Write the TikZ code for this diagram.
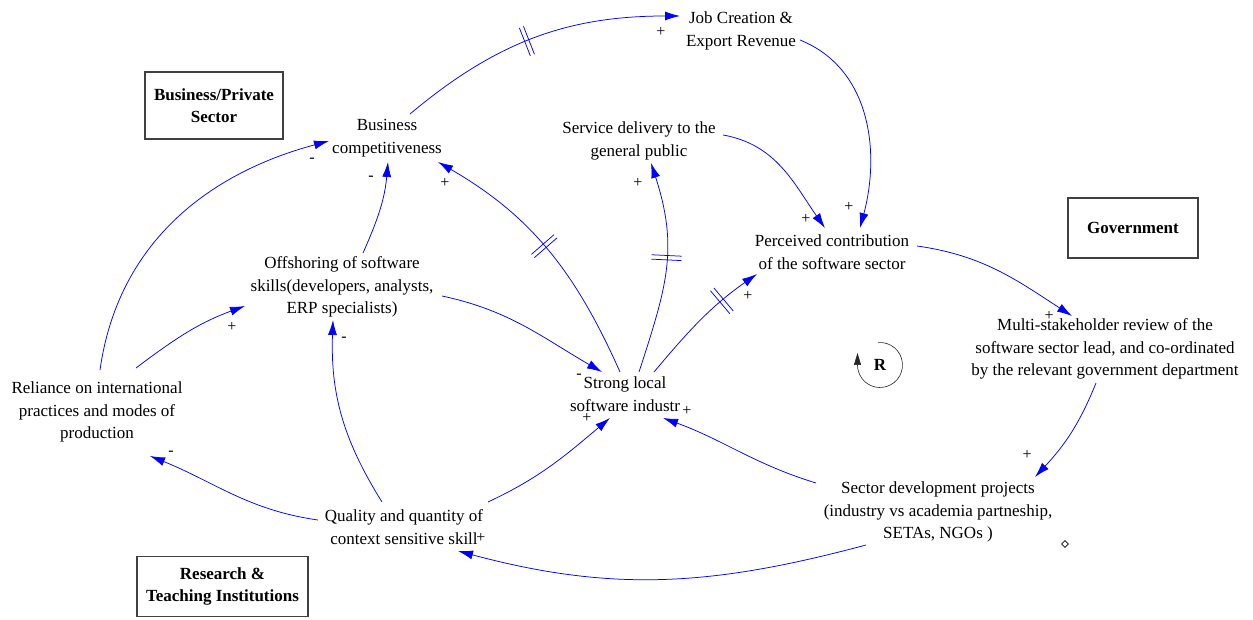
\documentclass[tikz,border=0pt]{standalone}
\usepackage{fontspec}
\setmainfont{Liberation Serif}
\usetikzlibrary{arrows.meta,decorations.markings,shapes.geometric}
\begin{document}
\begin{tikzpicture}[x=1pt,y=1pt,
  var/.style={align=center, font=\fontsize{17}{22.5}\selectfont, inner sep=0pt},
  sector/.style={draw=black!75, line width=1.1pt, align=center, font=\fontsize{17}{22.5}\selectfont\bfseries},
  link/.style={draw=blue, line width=0.75pt, -{Latex[length=15pt,width=9pt]}},
  pol/.style={font=\fontsize{16}{16}\selectfont, inner sep=0pt},
  delaymark/.style={postaction={decorate, decoration={markings, mark=at position #1 with {\draw[-, blue, line width=0.75pt] (-2.2pt,-15pt)--(-2.2pt,15pt) (2.2pt,-15pt)--(2.2pt,15pt);}}}}
]
\useasboundingbox (0,0) rectangle (1253,620);

% variables
\node[var] (job) at (741,589) {Job Creation \&\\Export Revenue};
\node[sector, minimum width=138pt, minimum height=67pt] (bps) at (214,514.5) {Business/Private\\Sector};
\node[var] (bc) at (387,482) {Business\\competitiveness};
\node[var] (sd) at (639,479) {Service delivery to the\\general public};
\node[var] (pc) at (832,368) {Perceived contribution\\of the software sector};
\node[sector, minimum width=130pt, minimum height=60pt] (gov) at (1133,392) {Government};
\node[var] (off) at (342,333) {Offshoring of software\\skills(developers, analysts,\\ERP specialists)};
\node[var] (msr) at (1105,271) {Multi-stakeholder review of the\\software sector lead, and co-ordinated\\by the relevant government department};
\node[var] (sli) at (625,226) {Strong local\\software industr};
\node[var] (rel) at (97,208) {Reliance on international\\practices and modes of\\production};
\node[var] (sdp) at (938,108) {Sector development projects\\(industry vs academia partneship,\\SETAs, NGOs )};
\node[var] (qq) at (404,93) {Quality and quantity of\\context sensitive skill};
\node[sector, anchor=north, minimum width=171pt, inner ysep=11pt] (rti) at (222.5,64) {Research \&\\Teaching Institutions};
\node[draw, diamond, inner sep=0pt, minimum size=7pt, line width=0.6pt] (dot) at (1065,76) {};

% loop marker
\node[font=\fontsize{17}{17}\selectfont\bfseries] (R) at (880,255) {R};
\draw[black!85, line width=0.6pt] ([shift={(95:22.5)}]R.center) arc[start angle=95, end angle=-180, radius=22.5]
  coordinate (rend);
\draw[black!85, line width=0.6pt, -{Triangle[length=12pt,width=7pt]}] (rend) -- ++(0,12);

% links
\draw[link, delaymark=0.47] ([shift={(23,24)}]bc.center) to[out=40,in=180] ([shift={(-61,15)}]job.center);
\draw[link] ([shift={(59,-9)}]job.center) to[out=-22,in=75] ([shift={(28,24)}]pc.center);
\draw[link] ([shift={(84,6)}]sd.center) to[out=-10,in=125] ([shift={(-7,24)}]pc.center);
\draw[link] ([shift={(85,6)}]pc.center) to[out=-8,in=147] ([shift={(-33,33)}]msr.center);
\draw[link] ([shift={(-9,-34)}]msr.center) to[out=-112,in=47] ([shift={(97,35)}]sdp.center);
\draw[link] ([shift={(-122,29)}]sdp.center) to[out=163,in=-20] ([shift={(38,-24)}]sli.center);
\draw[link] ([shift={(-72,-33)}]sdp.center) to[out=-165,in=-15] ([shift={(54,-24)}]qq.center);
\draw[link] ([shift={(84,25)}]qq.center) to[out=25,in=-140] ([shift={(-15,-24)}]sli.center);
\draw[link] ([shift={(-22,25)}]qq.center) to[out=122,in=-92] ([shift={(-9,-33)}]off.center);
\draw[link] ([shift={(-86,7)}]qq.center) to[out=172,in=-22] ([shift={(53,-44)}]rel.center);
\draw[link] ([shift={(39,44)}]rel.center) to[out=37,in=-160] ([shift={(-97,-19)}]off.center);
\draw[link] ([shift={(3,42)}]rel.center) to[out=82,in=-165] ([shift={(-58,-3)}]bc.center);
\draw[link] ([shift={(21,34)}]off.center) to[out=66,in=-95] ([shift={(1,-24)}]bc.center);
\draw[link] ([shift={(100,-9)}]off.center) to[out=-12,in=150] ([shift={(-23,22)}]sli.center);
\draw[link, delaymark=0.52] ([shift={(-5,22)}]sli.center) to[out=114,in=-30] ([shift={(51,-24)}]bc.center);
\draw[link, delaymark=0.55] ([shift={(14,22)}]sli.center) to[out=72,in=-72, looseness=1.1] ([shift={(12,-22)}]sd.center);
\draw[link, delaymark=0.69] ([shift={(29,22)}]sli.center) to[out=50,in=-145] ([shift={(-75,-22)}]pc.center);

% polarities
\node[pol] (p1) at (661,588) {+};
\node[pol] (p2) at (849,413) {+};
\node[pol] (p3) at (806,401) {+};
\node[pol] (p4) at (1049,304) {+};
\node[pol] (p5) at (1027,165) {+};
\node[pol] (p6) at (687,209) {+};
\node[pol] (p7) at (481,82) {+};
\node[pol] (p8) at (587,202) {+};
\node[pol] (p9) at (344,281) {-};
\node[pol] (p10) at (171,167) {-};
\node[pol] (p11) at (232,293) {+};
\node[pol] (p12) at (312,460) {-};
\node[pol] (p13) at (371,442) {-};
\node[pol] (p14) at (579,244) {-};
\node[pol] (p15) at (445,437) {+};
\node[pol] (p16) at (638,437) {+};
\node[pol] (p17) at (748,324) {+};
\end{tikzpicture}
\end{document}
